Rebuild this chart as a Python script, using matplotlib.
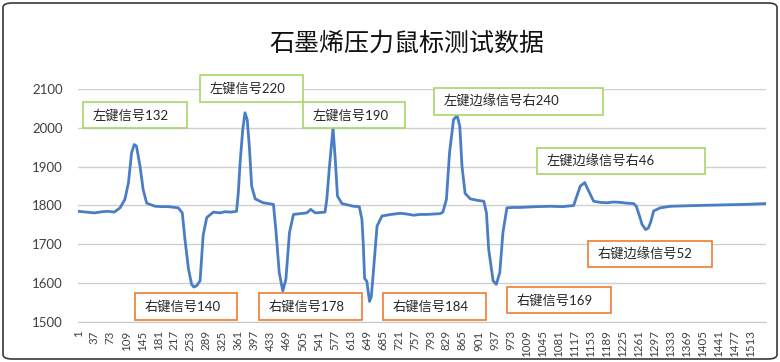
import matplotlib
matplotlib.use('Agg')
import matplotlib.pyplot as plt
from matplotlib.patches import Rectangle, FancyBboxPatch

# sample index / sensor reading
sample_idx = [1, 20, 38, 55, 68, 82, 95, 106, 114, 121, 127, 132, 140, 147, 155, 174,
              190, 204, 226, 235, 241, 249, 256, 261, 267, 275, 282, 290, 305, 320, 331,
              345, 357, 361, 365, 371, 376, 381, 386, 391, 399, 417, 440, 446, 453, 461,
              468, 476, 485, 500, 515, 524, 534, 545, 556, 560, 566, 574, 579, 584, 594,
              620, 633, 639, 642, 645, 650, 656, 660, 664, 673, 684, 705, 725, 740, 755,
              770, 785, 800, 815, 821, 829, 836, 845, 853, 859, 864, 871, 883, 900, 913,
              919, 924, 934, 941, 949, 956, 965, 980, 995, 1030, 1063, 1090, 1115, 1121,
              1130, 1140, 1149, 1160, 1175, 1190, 1205, 1220, 1235, 1250, 1256, 1264,
              1269, 1277, 1283, 1288, 1295, 1310, 1333, 1360, 1393, 1430, 1468, 1505, 1546]
reading = [1785, 1783, 1781, 1784, 1785, 1783, 1794, 1816, 1859, 1936, 1957, 1953, 1901,
           1841, 1806, 1798, 1797, 1797, 1794, 1781, 1713, 1636, 1597, 1590, 1593, 1606,
           1724, 1769, 1783, 1781, 1784, 1783, 1785, 1833, 1910, 1996, 2039, 2021, 1949,
           1850, 1817, 1807, 1803, 1730, 1627, 1580, 1610, 1730, 1777, 1779, 1781, 1790,
           1781, 1782, 1783, 1816, 1901, 2000, 1919, 1824, 1805, 1798, 1797, 1764, 1700,
           1612, 1605, 1553, 1565, 1619, 1747, 1773, 1777, 1780, 1778, 1775, 1777, 1777,
           1778, 1779, 1783, 1816, 1936, 2021, 2032, 2004, 1901, 1831, 1817, 1813, 1811,
           1781, 1687, 1606, 1597, 1627, 1730, 1794, 1795, 1795, 1797, 1798, 1797, 1800,
           1820, 1850, 1859, 1837, 1811, 1808, 1807, 1809, 1808, 1806, 1805, 1798, 1770,
           1751, 1738, 1742, 1756, 1786, 1794, 1798, 1799, 1800, 1801, 1802, 1803, 1805]

x_ticks = list(range(1, 1514, 36))
y_ticks = [1500, 1600, 1700, 1800, 1900, 2000, 2100]

title = '石墨烯压力鼠标测试数据'

# callout labels: text, box in image pixels (x0, y0, x1, y1), kind
labels = ['左键信号132', '左键信号220', '左键信号190', '左键边缘信号右240', '左键边缘信号右46',
          '右键信号140', '右键信号178', '右键信号184', '右键信号169', '右键边缘信号52']
label_boxes = [(83, 102, 187, 128), (200, 75, 303, 102), (303, 102, 405, 128),
               (434, 88, 603, 115), (537, 148, 705, 174),
               (135, 293, 237, 320), (259, 293, 362, 320), (383, 293, 486, 320),
               (507, 287, 611, 313), (588, 241, 712, 267)]
label_kind = ['L', 'L', 'L', 'L', 'L', 'R', 'R', 'R', 'R', 'R']

W, H = 780, 362
fig = plt.figure(figsize=(W / 100, H / 100), dpi=100)

def fx(x):
    return x / W

def fy(y):
    return 1 - y / H

# chart area border
fig.patches.append(FancyBboxPatch((fx(3), fy(359)), fx(774), 356 / H,
                                  boxstyle='round,pad=0,rounding_size=0.012',
                                  transform=fig.transFigure, fill=False,
                                  ec='#3a3a3a', lw=1.2))

ax = fig.add_axes([fx(78), fy(322), fx(765.5) - fx(78), (322 - 89) / H])
ax.plot(sample_idx, reading, color='#4a7ec4', lw=2.0, solid_joinstyle='round')

ax.set_xlim(0.5, 1546.5)
ax.set_ylim(1500, 2100)
ax.set_yticks(y_ticks)
ax.set_xticks(x_ticks)
ax.set_xticklabels([str(t) for t in x_ticks], rotation=90, fontsize=8.3,
                   family=['Lato', 'DejaVu Sans'], color='#404040')
ax.set_yticklabels([str(t) for t in y_ticks], fontsize=9.5,
                   family=['Lato', 'DejaVu Sans'], color='#404040')
ax.tick_params(axis='both', length=0)
ax.tick_params(axis='y', pad=11)
ax.tick_params(axis='x', pad=6)
ax.grid(axis='y', color='#d0d0d0', lw=1)
ax.set_axisbelow(True)
for s in ['top', 'right', 'left']:
    ax.spines[s].set_visible(False)
ax.spines['bottom'].set_color('#c8c8c8')

fig.text(fx(407), fy(44), title, ha='center', va='center', fontsize=18,
         family=['Noto Sans CJK SC', 'DejaVu Sans'], color='#111111')

for txt, (x0, y0, x1, y1), k in zip(labels, label_boxes, label_kind):
    ec = '#a6d66a' if k == 'L' else '#ed7d31'
    fig.patches.append(Rectangle((fx(x0), fy(y1)), fx(x1) - fx(x0), (y1 - y0) / H,
                                 transform=fig.transFigure, fc='white', ec=ec, lw=1.2,
                                 zorder=5))
    fig.text(fx(x0 + 10), fy((y0 + y1) / 2), txt, ha='left', va='center', fontsize=9.5,
             family=['Lato', 'Noto Sans CJK SC'], color='#262626', zorder=6)

fig.savefig('out.png', dpi=100)
